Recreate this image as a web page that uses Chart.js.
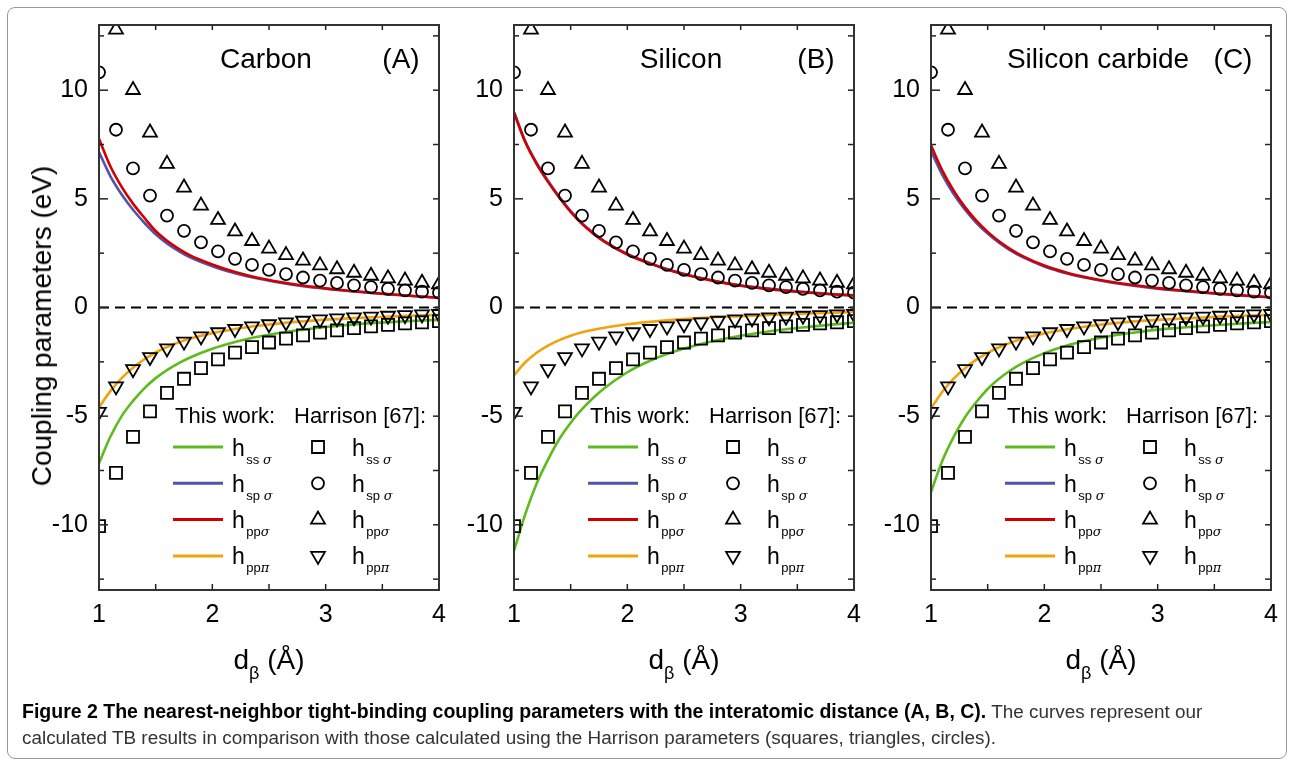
<!DOCTYPE html>
<html>
<head>
<meta charset="utf-8">
<script src="https://cdn.jsdelivr.net/npm/chart.js@4.4.0/dist/chart.umd.min.js"></script>
<style>
  body { margin: 0; background: #fff; font-family: 'Liberation Sans', Arial, sans-serif; }
  #fig { position: relative; width: 1294px; height: 762px; overflow: hidden; }
  #frame { position: absolute; left: 7px; top: 7px; width: 1278px; height: 750px; border: 1px solid #9a9a9a; border-radius: 8px; }
  canvas { position: absolute; top: 10px; }
  .ptitle { position: absolute; font-size: 28px; line-height: 32px; transform: translate(-50%, -50%); white-space: nowrap; }
  .xtitle { position: absolute; top: 644px; font-size: 28px; line-height: 32px; transform: translateX(-50%); white-space: nowrap; }
  .xtitle sub { font-size: 18px; vertical-align: -10px; }
  #ytitle { position: absolute; left: 42px; top: 326px; font-size: 28px; transform: translate(-50%, -50%) rotate(-90deg); white-space: nowrap; }
  #caption { position: absolute; left: 22px; top: 698px; font-size: 18.9px; line-height: 26px; color: #333; white-space: nowrap; }
  #caption b { color: #000; font-size: 19.5px; }
</style>
</head>
<body>
<div id="fig">
  <div id="frame"></div>
  <canvas id="chartA" width="445" height="690" style="left:10px"></canvas>
  <canvas id="chartB" width="445" height="690" style="left:425px"></canvas>
  <canvas id="chartC" width="445" height="690" style="left:842px"></canvas>
  <div id="ytitle">Coupling parameters (eV)</div>
  <div id="caption"><b>Figure 2 The nearest-neighbor tight-binding coupling parameters with the interatomic distance (A, B, C).</b> The curves represent our<br>calculated TB results in comparison with those calculated using the Harrison parameters (squares, triangles, circles).</div>
</div>

<script>
// axis ticks
const xTickVals = [1, 2, 3, 4];
const xMinorVals = [1.5, 2.5, 3.5];
const yTickVals = [-10, -5, 0, 5, 10];
const yMinorVals = [-12.5, -7.5, -2.5, 2.5, 7.5, 12.5];

// panel labels
const panelNames = ['Carbon', 'Silicon', 'Silicon carbide'];
const panelLetters = ['(A)', '(B)', '(C)'];

// interatomic distance for the curves (this work)
const dCurve = [1.0, 1.1, 1.2, 1.3, 1.4, 1.5, 1.6, 1.7, 1.8, 2.0, 2.2, 2.4, 2.6, 2.8, 3.0, 3.2, 3.4, 3.6, 3.8, 4.0];

// Carbon (A)
const carbonSS  = [-7.17, -5.95, -5.0, -4.3, -3.72, -3.25, -2.88, -2.57, -2.31, -1.90, -1.59, -1.35, -1.16, -1.02, -0.90, -0.80, -0.72, -0.66, -0.61, -0.57];
const carbonSP  = [7.15, 6.05, 5.2, 4.5, 3.9, 3.37, 2.95, 2.61, 2.32, 1.9, 1.58, 1.33, 1.14, 0.98, 0.86, 0.76, 0.67, 0.59, 0.52, 0.45];
const carbonPPs = [7.76, 6.5, 5.55, 4.78, 4.13, 3.52, 3.07, 2.71, 2.41, 1.98, 1.63, 1.37, 1.17, 1.01, 0.88, 0.77, 0.68, 0.6, 0.52, 0.45];
const carbonPPp = [-4.6, -3.85, -3.25, -2.77, -2.38, -2.07, -1.82, -1.61, -1.44, -1.18, -0.99, -0.84, -0.73, -0.64, -0.56, -0.50, -0.45, -0.41, -0.37, -0.34];

// Silicon (B)
const siliconSS  = [-11.2, -9.5, -8.1, -7.0, -6.05, -5.3, -4.68, -4.15, -3.7, -2.98, -2.45, -2.05, -1.75, -1.5, -1.3, -1.14, -1.0, -0.89, -0.79, -0.70];
const siliconSP  = [9.0, 7.65, 6.65, 5.83, 5.09, 4.44, 3.88, 3.43, 3.05, 2.46, 2.04, 1.69, 1.42, 1.2, 1.02, 0.89, 0.79, 0.7, 0.62, 0.56];
const siliconPPs = [8.96, 7.6, 6.6, 5.78, 5.05, 4.4, 3.85, 3.4, 3.02, 2.44, 2.02, 1.67, 1.40, 1.18, 1.0, 0.87, 0.77, 0.68, 0.61, 0.55];
const siliconPPp = [-3.12, -2.52, -2.08, -1.75, -1.5, -1.3, -1.14, -1.02, -0.93, -0.77, -0.66, -0.57, -0.5, -0.44, -0.4, -0.35, -0.31, -0.27, -0.24, -0.21];

// Silicon carbide (C)
const sicSS  = [-8.5, -7.05, -5.95, -5.05, -4.35, -3.75, -3.28, -2.9, -2.58, -2.1, -1.75, -1.5, -1.3, -1.15, -1.02, -0.93, -0.85, -0.78, -0.72, -0.67];
const sicSP  = [7.2, 6.1, 5.22, 4.5, 3.9, 3.4, 2.98, 2.63, 2.34, 1.89, 1.57, 1.33, 1.14, 0.99, 0.87, 0.77, 0.68, 0.6, 0.53, 0.46];
const sicPPs = [7.46, 6.3, 5.38, 4.62, 4.0, 3.48, 3.05, 2.69, 2.39, 1.93, 1.6, 1.36, 1.17, 1.02, 0.89, 0.79, 0.7, 0.62, 0.54, 0.47];
const sicPPp = [-4.65, -3.88, -3.27, -2.79, -2.4, -2.09, -1.83, -1.62, -1.45, -1.19, -1.0, -0.85, -0.73, -0.64, -0.57, -0.51, -0.46, -0.41, -0.37, -0.34];

// Harrison [67] points (same in all panels)
const dHarrison   = [1.0, 1.15, 1.3, 1.45, 1.6, 1.75, 1.9, 2.05, 2.2, 2.35, 2.5, 2.65, 2.8, 2.95, 3.1, 3.25, 3.4, 3.55, 3.7, 3.85, 4.0];
const harrisonSS  = [-10.06, -7.61, -5.95, -4.78, -3.93, -3.28, -2.79, -2.39, -2.08, -1.82, -1.61, -1.43, -1.28, -1.16, -1.05, -0.95, -0.87, -0.80, -0.73, -0.68, -0.63];
const harrisonSP  = [10.82, 8.18, 6.40, 5.15, 4.23, 3.53, 3.00, 2.58, 2.24, 1.96, 1.73, 1.54, 1.38, 1.24, 1.13, 1.02, 0.94, 0.86, 0.79, 0.73, 0.68];
const harrisonPPs = [16.92, 12.79, 10.01, 8.05, 6.61, 5.52, 4.69, 4.03, 3.50, 3.06, 2.71, 2.41, 2.16, 1.94, 1.76, 1.60, 1.46, 1.34, 1.24, 1.14, 1.06];
const harrisonPPp = [-4.80, -3.63, -2.84, -2.28, -1.88, -1.57, -1.33, -1.14, -0.99, -0.87, -0.77, -0.68, -0.61, -0.55, -0.50, -0.45, -0.42, -0.38, -0.35, -0.32, -0.30];

// dashed zero line
const zeroLineX = [1, 4];
const zeroLineY = [0, 0];

// look of the four couplings (line colour + Harrison marker)
const styles = [
  { sub: 'ss ', greek: 'σ', color: '#5cbc1e', marker: 'rect',     radius: 8.5, rot: 0 },
  { sub: 'sp ', greek: 'σ', color: '#5252a8', marker: 'circle',   radius: 6,   rot: 0 },
  { sub: 'pp',  greek: 'σ', color: '#d00000', marker: 'triangle', radius: 8,   rot: 0 },
  { sub: 'pp',  greek: 'π', color: '#f2a20c', marker: 'triangle', radius: 8,   rot: 180 }
];

Chart.defaults.font.family = "'Liberation Sans', Arial, sans-serif";
Chart.defaults.color = '#000';

function toXY(xs, ys) {
  return xs.map((x, i) => ({ x: x, y: ys[i] }));
}

function curveSet(ys, s) {
  return {
    data: toXY(dCurve, ys), borderColor: s.color, borderWidth: 2.6,
    pointRadius: 0, cubicInterpolationMode: 'monotone', fill: false, clip: 0
  };
}

function markerSet(ys, s) {
  return {
    data: toXY(dHarrison, ys), showLine: false,
    pointStyle: s.marker, pointRadius: s.radius, pointRotation: s.rot,
    pointBorderColor: '#000', pointBackgroundColor: 'rgba(0,0,0,0)', pointBorderWidth: 1.8,
    clip: 0
  };
}

// frame, inward ticks and the legend block
const decorPlugin = {
  id: 'decor',
  afterDraw(chart) {
    const { ctx, chartArea: a, scales: { x, y } } = chart;
    const seg = (x1, y1, x2, y2) => { ctx.beginPath(); ctx.moveTo(x1, y1); ctx.lineTo(x2, y2); ctx.stroke(); };
    ctx.save();
    ctx.strokeStyle = '#222';
    ctx.lineWidth = 1.5;
    xTickVals.concat(xMinorVals).forEach(v => {
      const px = x.getPixelForValue(v);
      seg(px, a.bottom, px, a.bottom - 6);
      seg(px, a.top, px, a.top + 5);
    });
    yTickVals.forEach(v => {
      const py = y.getPixelForValue(v);
      seg(a.left, py, a.left + 9, py);
      seg(a.right, py, a.right - 6, py);
    });
    yMinorVals.forEach(v => {
      const py = y.getPixelForValue(v);
      seg(a.left, py, a.left + 5, py);
      seg(a.right, py, a.right - 6, py);
    });
    ctx.strokeStyle = '#333';
    ctx.lineWidth = 2;
    ctx.strokeRect(a.left, a.top, a.width, a.height);

    // legend
    ctx.fillStyle = '#000';
    ctx.font = "22px 'Liberation Sans', Arial";
    ctx.textBaseline = 'middle';
    ctx.textAlign = 'left';
    ctx.fillText('This work:', a.left + 76, a.top + 392);
    ctx.fillText('Harrison [67]:', a.left + 195, a.top + 392);

    const drawH = (hx, ry, s) => {
      ctx.fillStyle = '#000';
      ctx.textBaseline = 'alphabetic';
      ctx.font = "23px 'Liberation Sans', Arial";
      ctx.fillText('h', hx, ry + 8.5);
      let sx = hx + ctx.measureText('h').width + 1.5;
      ctx.font = "13px 'Liberation Sans', Arial";
      ctx.fillText(s.sub, sx, ry + 16.5);
      sx += ctx.measureText(s.sub).width;
      ctx.font = "italic 13px 'DejaVu Serif', serif";
      ctx.fillText(s.greek, sx, ry + 16.5);
    };

    styles.forEach((s, i) => {
      const ry = a.top + 422 + i * 36.3;
      ctx.strokeStyle = s.color;
      ctx.lineWidth = 3;
      seg(a.left + 74, ry, a.left + 124, ry);
      drawH(a.left + 133, ry, s);
      ctx.strokeStyle = '#000';
      ctx.lineWidth = 1.8;
      ctx.fillStyle = 'rgba(0,0,0,0)';
      Chart.helpers.drawPoint(ctx, { pointStyle: s.marker, radius: s.radius, rotation: s.rot, borderWidth: 1.8 }, a.left + 219, ry);
      drawH(a.left + 253, ry, s);
    });
    ctx.restore();
  }
};

function makePanel(canvasId, idx, ss, sp, pps, ppp) {
  const canvas = document.getElementById(canvasId);
  const chart = new Chart(canvas, {
    type: 'line',
    data: {
      datasets: [
        markerSet(harrisonSS, styles[0]),
        markerSet(harrisonSP, styles[1]),
        markerSet(harrisonPPs, styles[2]),
        markerSet(harrisonPPp, styles[3]),
        curveSet(pps, styles[2]),
        curveSet(sp, styles[1]),
        curveSet(ppp, styles[3]),
        curveSet(ss, styles[0]),
        {
          data: toXY(zeroLineX, zeroLineY), borderColor: '#000', borderWidth: 2,
          borderDash: [10, 6], pointRadius: 0, clip: 0
        }
      ]
    },
    options: {
      responsive: false,
      animation: false,
      layout: { padding: { left: 0, right: 16, top: 15, bottom: 0 } },
      plugins: { legend: { display: false }, tooltip: { enabled: false } },
      scales: {
        x: {
          type: 'linear', min: 1, max: 4,
          afterBuildTicks: s => { s.ticks = xTickVals.map(v => ({ value: v })); },
          afterFit: s => { s.height = 110; s.paddingLeft = 0; s.paddingRight = 0; },
          grid: { display: false, drawTicks: false },
          border: { display: false },
          ticks: { font: { size: 25 }, padding: 10, maxRotation: 0, color: '#000' }
        },
        y: {
          type: 'linear', min: -13, max: 13,
          afterBuildTicks: s => { s.ticks = yTickVals.map(v => ({ value: v })); },
          afterFit: s => { s.width = 89; s.paddingTop = 0; s.paddingBottom = 0; },
          grid: { display: false, drawTicks: false },
          border: { display: false },
          ticks: { font: { size: 25 }, padding: 11, color: '#000' }
        }
      }
    },
    plugins: [decorPlugin]
  });

  // panel titles and x-axis title, placed from the chart area
  const a = chart.chartArea;
  const left = parseFloat(canvas.style.left);
  const fig = document.getElementById('fig');
  const name = document.createElement('div');
  name.className = 'ptitle';
  name.textContent = panelNames[idx];
  name.style.left = (left + a.left + 167) + 'px';
  name.style.top = (10 + a.top + 34) + 'px';
  fig.appendChild(name);
  const letter = document.createElement('div');
  letter.className = 'ptitle';
  letter.textContent = panelLetters[idx];
  letter.style.left = (left + a.left + 302) + 'px';
  letter.style.top = (10 + a.top + 34) + 'px';
  fig.appendChild(letter);
  const xt = document.createElement('div');
  xt.className = 'xtitle';
  xt.innerHTML = 'd<sub>β</sub> (Å)';
  xt.style.left = (left + (a.left + a.right) / 2) + 'px';
  fig.appendChild(xt);
}

makePanel('chartA', 0, carbonSS, carbonSP, carbonPPs, carbonPPp);
makePanel('chartB', 1, siliconSS, siliconSP, siliconPPs, siliconPPp);
makePanel('chartC', 2, sicSS, sicSP, sicPPs, sicPPp);
</script>
</body>
</html>
